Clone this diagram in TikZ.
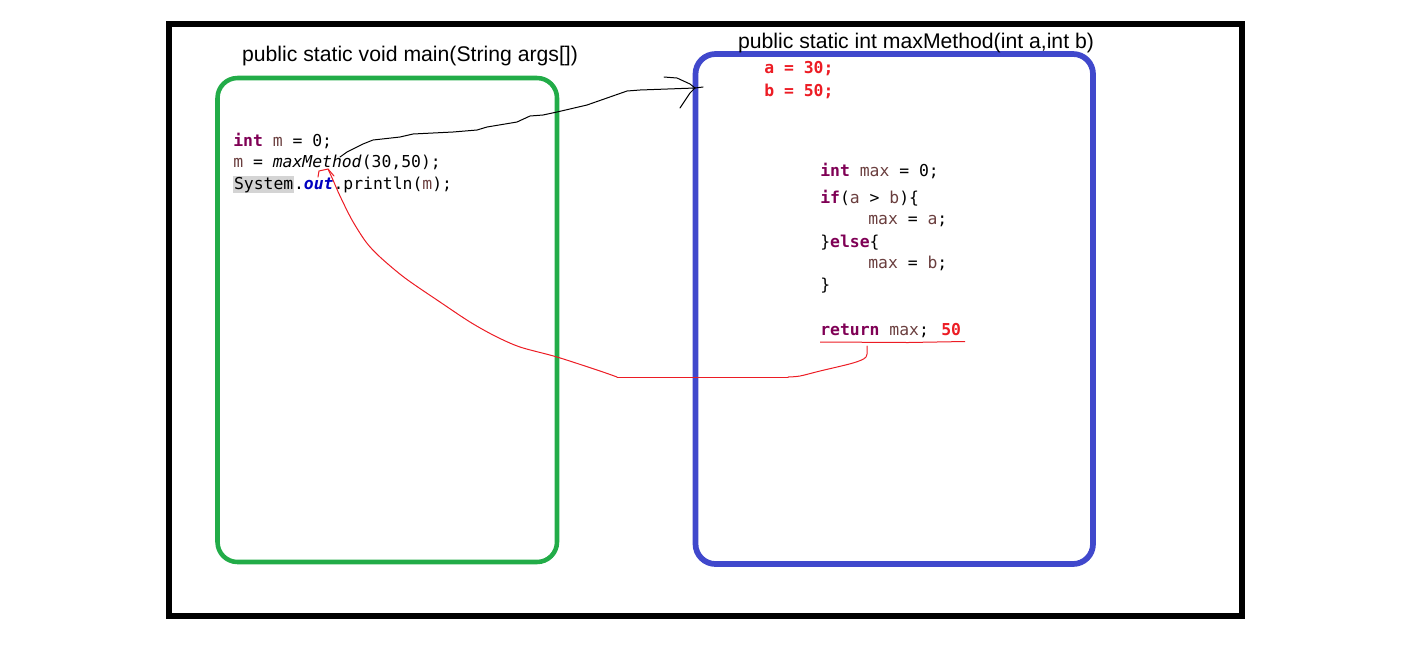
\documentclass[tikz,border=0pt]{standalone}
\usepackage{fontspec}
\usepackage{xcolor}
\setmainfont{Liberation Sans}
\newfontfamily\codefont{DejaVu Sans Mono}
\definecolor{kwpurple}{RGB}{127,0,85}
\definecolor{varbrown}{RGB}{106,62,62}
\definecolor{fieldblue}{RGB}{0,0,192}
\definecolor{hlgray}{RGB}{212,212,212}
\definecolor{boxgreen}{RGB}{34,172,72}
\definecolor{boxblue}{RGB}{64,72,204}
\definecolor{penred}{RGB}{236,28,36}
\newcommand{\kw}[1]{\textbf{\color{kwpurple}#1}}
\newcommand{\vr}[1]{{\color{varbrown}#1}}

\begin{document}
\begin{tikzpicture}[x=0.75pt,y=-0.75pt,
  code/.style={font=\codefont\fontsize{12.3}{14}\selectfont, anchor=base west, inner sep=0pt},
  title/.style={font=\fontsize{15.9}{18}\selectfont, anchor=base, inner sep=0pt},
  pen/.style={line width=0.75pt, line join=round, line cap=round}]
\useasboundingbox (0,0) rectangle (1402,662);
% frame and the two method boxes
\draw [line width=3.9pt] (169,24) rectangle (1242,616);
\draw [boxgreen, line width=3.4pt, rounded corners=15pt] (217.5,78) rectangle (557,562);
\draw [boxblue, line width=4.3pt, rounded corners=15pt] (695.5,54) rectangle (1093,564);
\node [title] (maintitle) at (410,61) {public static void main(String args[])};
\node [title] (maxtitle) at (916,48) {public static int maxMethod(int a,int b)};
% main
\node [code] (l1) at (233,146) {\kw{int} \vr{m} = 0;};
\node [code] (l2) at (233,167.5) {\vr{m} = \textit{maxMethod}(30,50);};
\node [code] (l3) at (233,189) {{\setlength\fboxsep{0.6pt}\colorbox{hlgray}{System}}.\textbf{\textit{\color{fieldblue}out}}.println(\vr{m});};
% maxMethod
\node [code, text=penred, font=\codefont\bfseries\fontsize{12.3}{14}\selectfont] (pa) at (764,73) {a = 30;};
\node [code, text=penred, font=\codefont\bfseries\fontsize{12.3}{14}\selectfont] (pb) at (764,96) {b = 50;};
\node [code] (r1) at (820,176) {\kw{int} \vr{max} = 0;};
\node [code] (r2) at (820,203) {\kw{if}(\vr{a} > \vr{b})\{};
\node [code] (r3) at (868,224) {\vr{max} = \vr{a};};
\node [code] (r4) at (820,247) {\}\kw{else}\{};
\node [code] (r5) at (868,268) {\vr{max} = \vr{b};};
\node [code] (r6) at (820,290) {\}};
\node [code] (r7) at (820,335) {\kw{return} \vr{max};};
\node [code, text=penred, font=\codefont\bfseries\fontsize{12.3}{14}\selectfont] (rv) at (941,335) {50};
\draw [penred, line width=0.75pt] (820,342) -- (908,342.5) -- (965,341.5);
% call: black pen
\coordinate (call) at (340,157);
\coordinate (entry) at (695,88);
\draw [pen] (call) -- (347,152) -- (363,144) -- (373,140) -- (400,137) -- (413,134)
  -- (453,132) -- (477,130) -- (487,127) -- (517,122) -- (530,116) -- (543,115)
  -- (557,112) -- (587,105) -- (627,91) -- (640,90) -- (entry);
\draw [pen] (664,77) -- (677,78) -- (690,84) -- (entry) -- (703,87);
\draw [pen] (680,108) -- (690,93) -- (entry);
% return: red pen
\coordinate (ret) at (867,346);
\coordinate (bend) at (788,377);
\coordinate (turn) at (617,377);
\coordinate (hit) at (328,169);
\draw [pen, penred] plot [smooth, tension=0.5] coordinates {(ret) (866,357) (853,363) (820,371) (800,376) (bend)};
\draw [pen, penred] (bend) -- (turn);
\draw [pen, penred] plot [smooth, tension=0.5] coordinates {(turn) (600,371) (557,357) (520,347)
  (495,336) (470,322) (440,302) (405,278) (380,257) (366,242) (352,220) (340,196) (333,180) (hit)};
\draw [pen, penred] (318,177) -- (319,171) -- (hit) -- (334,176);
\end{tikzpicture}
\end{document}
